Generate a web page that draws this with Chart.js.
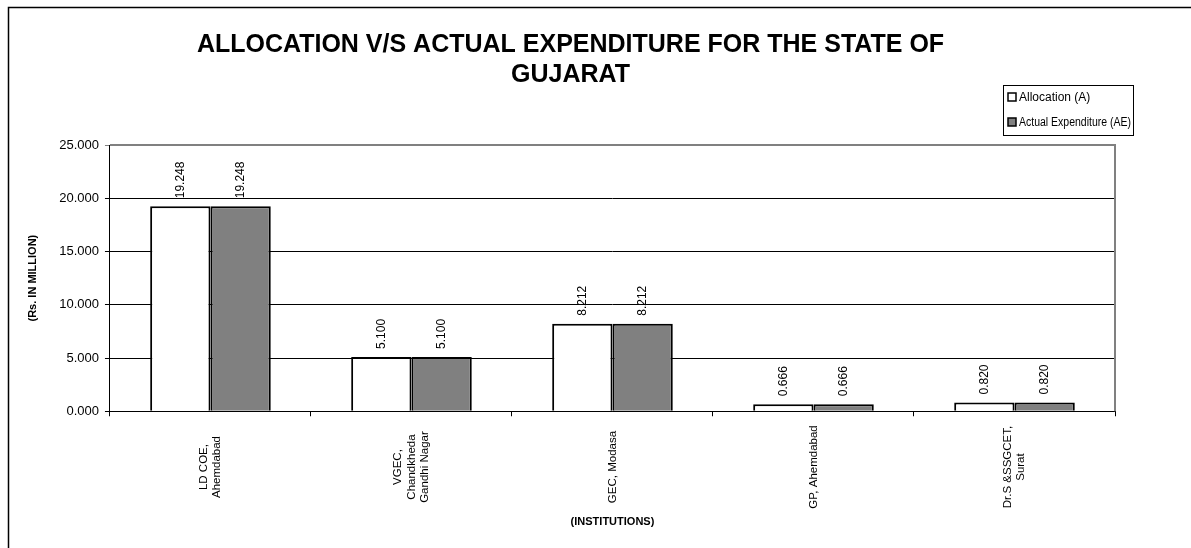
<!DOCTYPE html>
<html>
<head>
<meta charset="utf-8">
<script src="https://cdn.jsdelivr.net/npm/chart.js@4.4.1/dist/chart.umd.min.js"></script>
<style>
  html, body { margin: 0; padding: 0; background: #fff; }
  #wrap { width: 1191px; height: 548px; position: relative; }
</style>
</head>
<body>
<div id="wrap"><canvas id="c" width="1191" height="548"></canvas></div>
<script>
const categories = [
  ["LD COE,", "Ahemdabad"],
  ["VGEC,", "Chandkheda", "Gandhi Nagar"],
  ["GEC, Modasa"],
  ["GP, Ahemdabad"],
  ["Dr.S &SSGCET,", "Surat"]
];
const allocation = [19.248, 5.100, 8.212, 0.666, 0.820];
const actualExpenditure = [19.248, 5.100, 8.212, 0.666, 0.820];
const yTicks = [0, 5, 10, 15, 20, 25];
const titleLines = ["ALLOCATION V/S ACTUAL EXPENDITURE FOR THE STATE OF", "GUJARAT"];

const FONT = "'Liberation Sans', Arial, sans-serif";
const XTICK_SIZE = 11.5;
const XTICK_LH = 1.15;

const framePlugin = {
  id: 'frame',
  beforeDraw(chart) {
    const ctx = chart.ctx;
    ctx.save();
    ctx.fillStyle = '#fff';
    ctx.fillRect(0, 0, chart.width, chart.height);
    // centre multi-line rotated category labels on their tick, and each line within the label band
    const s = chart.scales.x;
    const items = s.getLabelItems(chart.chartArea);
    ctx.font = XTICK_SIZE + 'px ' + FONT;
    let widest = 0;
    items.forEach(it => {
      const lines = Array.isArray(it.label) ? it.label : [it.label];
      lines.forEach(l => { widest = Math.max(widest, ctx.measureText(l).width); });
    });
    const lh = XTICK_SIZE * XTICK_LH;
    items.forEach(it => {
      if (it._fixed) return;
      const n = Array.isArray(it.label) ? it.label.length : 1;
      it.options.translation[0] -= (n - 1) * lh / 2;
      it.options.translation[1] += widest / 2 + 1;
      it.options.textAlign = 'center';
      it._fixed = true;
    });
    ctx.restore();
  },
  afterDraw(chart) {
    const ctx = chart.ctx;
    const a = chart.chartArea;
    ctx.save();
    // outer frame (top + left)
    ctx.strokeStyle = '#000';
    ctx.lineWidth = 1.5;
    ctx.beginPath();
    ctx.moveTo(8.5, chart.height);
    ctx.lineTo(8.5, 7.5);
    ctx.lineTo(chart.width, 7.5);
    ctx.stroke();
    // plot area top/right border (grey)
    ctx.strokeStyle = '#808080';
    ctx.lineWidth = 2;
    ctx.beginPath();
    ctx.moveTo(a.left, a.top);
    ctx.lineTo(a.right, a.top);
    ctx.lineTo(a.right, a.bottom);
    ctx.stroke();

    // data labels
    ctx.fillStyle = '#000';
    ctx.font = '12px ' + FONT;
    ctx.textAlign = 'left';
    ctx.textBaseline = 'middle';
    chart.data.datasets.forEach((ds, di) => {
      const meta = chart.getDatasetMeta(di);
      meta.data.forEach((bar, i) => {
        ctx.save();
        ctx.translate(bar.x, bar.y - 8);
        ctx.rotate(-Math.PI / 2);
        ctx.fillText(ds.data[i].toFixed(3), 0, 0);
        ctx.restore();
      });
    });

    // legend box
    const lx = 1003, ly = 85, lw = 130, lh = 50;
    ctx.fillStyle = '#fff';
    ctx.fillRect(lx, ly, lw, lh);
    ctx.strokeStyle = '#000';
    ctx.lineWidth = 1;
    ctx.strokeRect(lx + 0.5, ly + 0.5, lw, lh);
    ctx.font = '12px ' + FONT;
    ctx.textBaseline = 'middle';
    chart.data.datasets.forEach((ds, di) => {
      const cy = ly + 12 + di * 25;
      ctx.fillStyle = ds.backgroundColor;
      ctx.fillRect(lx + 5, cy - 4, 8, 8);
      ctx.strokeStyle = '#000';
      ctx.lineWidth = 1.5;
      ctx.strokeRect(lx + 5, cy - 4, 8, 8);
      ctx.fillStyle = '#000';
      ctx.fillText(ds.label, lx + 16, cy + 1, lw - 18);
    });
    ctx.restore();
  }
};

new Chart(document.getElementById('c'), {
  type: 'bar',
  data: {
    labels: categories,
    datasets: [
      { label: 'Allocation (A)', data: allocation, backgroundColor: '#ffffff', borderColor: '#000', borderWidth: 2,
        categoryPercentage: 0.6, barPercentage: 1.0 },
      { label: 'Actual Expenditure (AE)', data: actualExpenditure, backgroundColor: '#808080', borderColor: '#000', borderWidth: 2,
        categoryPercentage: 0.6, barPercentage: 1.0 }
    ]
  },
  options: {
    responsive: false,
    animation: false,
    devicePixelRatio: 1,
    layout: { padding: { left: 26, right: 76, top: 0, bottom: 19 } },
    plugins: {
      legend: { display: false },
      tooltip: { enabled: false },
      title: {
        display: true,
        text: titleLines,
        color: '#000',
        font: { family: FONT, size: 25, weight: 'bold', lineHeight: 1.2 },
        padding: { top: 30, bottom: 55 }
      }
    },
    scales: {
      x: {
        grid: { drawOnChartArea: false, drawTicks: true, tickLength: 5, color: '#000', offset: true },
        border: { color: '#000', width: 1 },
        ticks: {
          color: '#000', font: { family: FONT, size: XTICK_SIZE, lineHeight: XTICK_LH }, minRotation: 90, maxRotation: 90,
          autoSkip: false, padding: 8
        },
        title: { display: true, text: '(INSTITUTIONS)', color: '#000',
          font: { family: FONT, size: 11, weight: 'bold' }, padding: { top: 0, bottom: 0 } }
      },
      y: {
        min: 0, max: 25,
        afterBuildTicks(scale) { scale.ticks = yTicks.map(v => ({ value: v })); },
        grid: { color: ctx => (ctx.tick && ctx.tick.value === 25) ? '#808080' : '#000', lineWidth: 1, tickLength: 5 },
        border: { color: '#000', width: 1 },
        ticks: { color: '#000', font: { family: FONT, size: 13 }, padding: 6,
          callback: v => Number(v).toFixed(3) },
        title: { display: true, text: '(Rs. IN MILLION)', color: '#000',
          font: { family: FONT, size: 11, weight: 'bold' }, padding: { top: 0, bottom: 14 } }
      }
    }
  },
  plugins: [framePlugin]
});
</script>
</body>
</html>
